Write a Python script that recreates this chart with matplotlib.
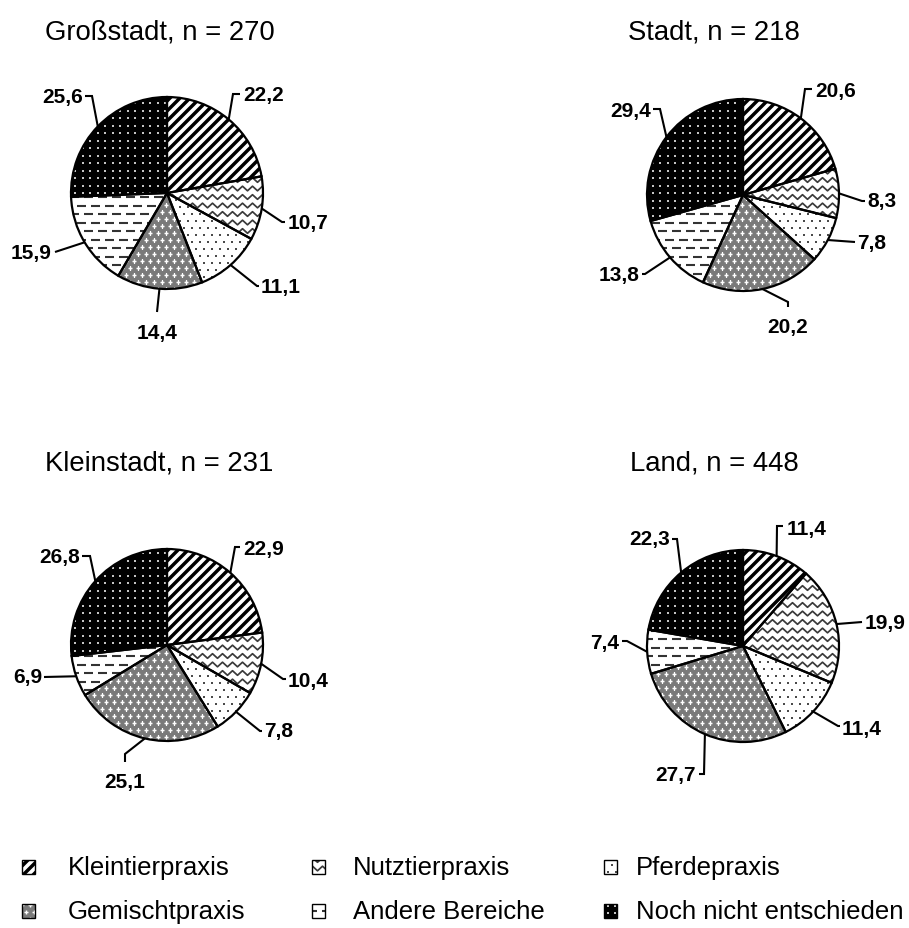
import numpy as np
import matplotlib
matplotlib.use("Agg")
import matplotlib.pyplot as plt
from matplotlib.patches import Rectangle
from matplotlib.collections import LineCollection

plt.rcParams['font.family'] = ['Liberation Sans', 'DejaVu Sans']

W, H = 909, 929

# ---------------- data ----------------
categories = ['Kleintierpraxis', 'Nutztierpraxis', 'Pferdepraxis',
              'Gemischtpraxis', 'Andere Bereiche', 'Noch nicht entschieden']
titles = ['Großstadt, n = 270', 'Stadt, n = 218', 'Kleinstadt, n = 231', 'Land, n = 448']
grossstadt = [22.2, 10.7, 11.1, 14.4, 15.9, 25.6]
stadt = [20.6, 8.3, 7.8, 20.2, 13.8, 29.4]
kleinstadt = [22.9, 10.4, 7.8, 25.1, 6.9, 26.8]
land = [11.4, 19.9, 11.4, 27.7, 7.4, 22.3]
series = [grossstadt, stadt, kleinstadt, land]

# ---------------- layout (pixels, top origin) ----------------
R = 96
centers = [(167, 194), (743, 196), (167, 646), (743, 647)]
title_pos = [(45, 39), (628, 39), (45, 470), (630, 470)]
# per label: elbow, end, text position, alignment
label_layout = [
    [((233, 95), (240, 95), (243, 95), 'left'),
     ((282, 223), (285, 223), (288, 223), 'left'),
     ((257, 287), (259, 287), (261, 287), 'left'),
     ((157, 313), (157, 313), (157, 333), 'center'),
     ((55, 253), (55, 253), (52, 253), 'right'),
     ((92, 97), (85, 97), (83, 97), 'right')],
    [((805, 90), (812, 90), (815, 91), 'left'),
     ((862, 202), (865, 202), (867, 202), 'left'),
     ((855, 243), (855, 243), (857, 243), 'left'),
     ((788, 303), (788, 308), (788, 327), 'center'),
     ((645, 275), (642, 275), (639, 275), 'right'),
     ((660, 110), (653, 110), (651, 111), 'right')],
    [((235, 548), (240, 548), (243, 550), 'left'),
     ((283, 680), (286, 680), (288, 681), 'left'),
     ((260, 732), (262, 732), (264, 732), 'left'),
     ((125, 755), (125, 763), (125, 783), 'center'),
     ((44, 678), (44, 678), (42, 678), 'right'),
     ((90, 557), (82, 557), (80, 557), 'right')],
    [((777, 527), (783, 527), (787, 529), 'left'),
     ((862, 623), (862, 623), (865, 623), 'left'),
     ((838, 727), (840, 727), (842, 729), 'left'),
     ((704, 775), (699, 775), (696, 776), 'right'),
     ((627, 642), (622, 642), (619, 643), 'right'),
     ((677, 540), (672, 540), (670, 540), 'right')],
]
legend_icon_x = [22, 312, 604]
legend_text_x = [68, 353, 636]
legend_row_y = [868, 912]

face_colors = ['white', 'white', 'white', '#7a7a7a', 'white', 'black']

fig = plt.figure(figsize=(W / 100, H / 100), dpi=100)
ax = fig.add_axes([0, 0, 1, 1])


# ---------------- pattern painters ----------------
def pat_stripes(ax, patch, bb):
    x0, y0, x1, y1 = bb
    segs = []
    for c in np.arange(np.floor((y0 - x1) / 10) * 10, y1 - x0 + 10, 10):
        segs.append([(x0 - 2, x0 - 2 + c), (x1 + 2, x1 + 2 + c)])
    lc = LineCollection(segs, colors='black', linewidths=2.5, capstyle='butt', zorder=2)
    ax.add_collection(lc)
    lc.set_clip_path(patch)


def pat_wavy(ax, patch, bb):
    x0, y0, x1, y1 = bb
    segs = []
    xs = np.arange(np.floor(x0 / 10) * 10, x1 + 10, 2.5)
    idx = np.round(xs / 2.5).astype(int) % 4
    off = np.array([0, 1, 0, -1])[idx] * 2.3
    for y in np.arange(np.floor(y0 / 8.5) * 8.5, y1 + 8.5, 8.5):
        segs.append(np.column_stack([xs, y + off]))
    lc = LineCollection(segs, colors='#3a3a3a', linewidths=1.25, zorder=2)
    ax.add_collection(lc)
    lc.set_clip_path(patch)


def grid_points(bb, dx, dy, stagger):
    x0, y0, x1, y1 = bb
    pts = []
    for y in np.arange(np.floor(y0 / dy) * dy, y1 + dy, dy):
        sh = (dx / 2) if (stagger and int(round(y / dy)) % 2) else 0
        for x in np.arange(np.floor(x0 / dx) * dx, x1 + dx, dx):
            pts.append((x + sh, y))
    return np.array(pts)


def pat_dots(ax, patch, bb):
    p = grid_points(bb, 8, 7, True)
    sc = ax.scatter(p[:, 0], p[:, 1], s=3.0, marker='s', c='#4a4a4a', linewidths=0, zorder=2)
    sc.set_clip_path(patch)


def pat_mixed(ax, patch, bb):
    p = grid_points(bb, 8, 7, True)
    sc = ax.scatter(p[:, 0] + 2, p[:, 1] + 2, s=8, marker='+', c='white', linewidths=1.0, zorder=2)
    sc.set_clip_path(patch)


def pat_dashes(ax, patch, bb):
    x0, y0, x1, y1 = bb
    segs = []
    for y in np.arange(np.floor(y0 / 8.5) * 8.5, y1 + 8.5, 8.5):
        sh = 7 if int(round(y / 8.5)) % 2 else 0
        for x in np.arange(np.floor(x0 / 14) * 14 - 14, x1 + 14, 14):
            segs.append([(x + sh, y), (x + sh + 9, y)])
    lc = LineCollection(segs, colors='#333333', linewidths=1.5, capstyle='butt', zorder=2)
    ax.add_collection(lc)
    lc.set_clip_path(patch)


def pat_black(ax, patch, bb):
    p = grid_points(bb, 7.5, 7.5, False)
    sc = ax.scatter(p[:, 0], p[:, 1], s=3.4, marker='s', c='#c4c4c4', linewidths=0, zorder=2)
    sc.set_clip_path(patch)


painters = [pat_stripes, pat_wavy, pat_dots, pat_mixed, pat_dashes, pat_black]


def fmt(v):
    return f"{v:.1f}".replace('.', ',')


# ---------------- pies ----------------
for i, vals in enumerate(series):
    cx, cy = centers[i]
    cyd = H - cy
    wedges, _ = ax.pie(vals, startangle=90, counterclock=False, radius=R,
                       center=(cx, cyd), colors=face_colors,
                       wedgeprops=dict(linewidth=0, edgecolor='none', zorder=1))
    bb = (cx - R - 2, cyd - R - 2, cx + R + 2, cyd + R + 2)
    for j, w in enumerate(wedges):
        painters[j](ax, w, bb)
    ax.pie(vals, startangle=90, counterclock=False, radius=R, center=(cx, cyd),
           wedgeprops=dict(fill=False, edgecolor='black', linewidth=1.6, zorder=5))

    total = float(np.sum(vals))
    cum = np.cumsum([0] + list(vals))
    for j, v in enumerate(vals):
        th = np.deg2rad(360.0 * (cum[j] + v / 2.0) / total)
        sx, sy = cx + R * np.sin(th), cyd + R * np.cos(th)
        (ex, ey), (tx, ty), (px, py), ha = label_layout[i][j]
        ax.plot([sx, ex, tx], [sy, H - ey, H - ty], color='black', lw=1.5,
                solid_joinstyle='miter', solid_capstyle='butt', zorder=6)
        ax.text(px, H - py, fmt(v), ha=ha, va='center', fontsize=15,
                fontweight='bold', color='black', zorder=7)

    tx, ty = title_pos[i]
    ax.text(tx, H - ty, titles[i], ha='left', va='baseline', fontsize=19.8, color='black')

# ---------------- legend ----------------
for k, name in enumerate(categories):
    row, col = k // 3, k % 3
    yc = legend_row_y[row]
    x0 = legend_icon_x[col]
    rect = Rectangle((x0, H - yc - 7), 13, 14, facecolor=face_colors[k],
                     edgecolor='none', zorder=1)
    ax.add_patch(rect)
    painters[k](ax, rect, (x0 - 2, H - yc - 9, x0 + 15, H - yc + 9))
    ax.add_patch(Rectangle((x0, H - yc - 7), 13, 14, fill=False, edgecolor='black',
                           linewidth=1.0, zorder=5))
    ax.text(legend_text_x[col], H - yc, name, ha='left', va='center', fontsize=18.5, color='black')

ax.set_xlim(0, W)
ax.set_ylim(0, H)
ax.set_aspect('auto')
ax.axis('off')

fig.savefig('out.png', dpi=100)
